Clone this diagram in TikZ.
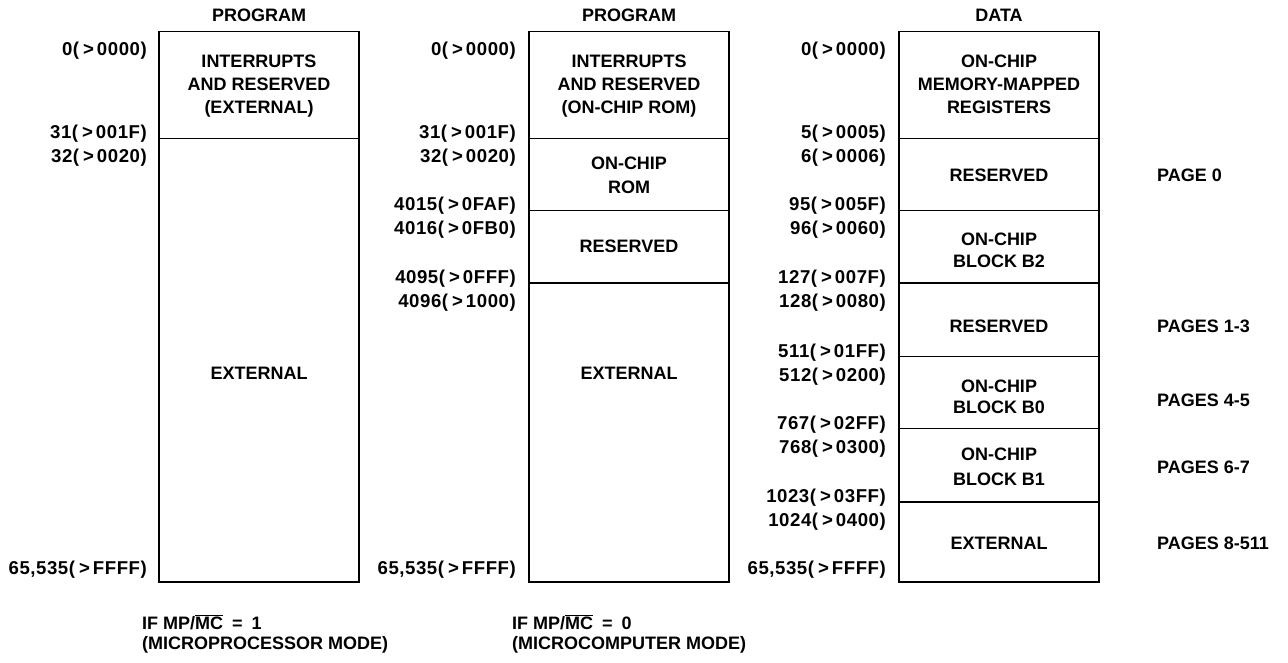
\documentclass[tikz,border=0pt]{standalone}
\usepackage{fontspec}
\setmainfont{Liberation Sans}
\newfontfamily\lblfont{Liberation Sans}[LetterSpace=3]
\newcommand\adrs[2]{#1(\kern4pt>\kern3pt#2)}
\begin{document}
\begin{tikzpicture}[x=1pt,y=-1pt,
  txt/.style={font=\bfseries\fontsize{18}{20}\selectfont, inner sep=0pt, anchor=base},
  lbl/.style={font=\lblfont\bfseries\fontsize{18.6}{20}\selectfont, inner sep=0pt, anchor=base east},
  pg/.style={txt, anchor=base west},
  box/.style={line width=1.8pt, line join=miter}]
\useasboundingbox (0,0) rectangle (1288,663);

% ---------- column 1 : PROGRAM (microprocessor mode) ----------
\draw[box] (159,31.5) rectangle (359,582);
\draw[box] (159,138.5) -- (359,138.5);
\node[txt] (h1) at (259,21.6) {PROGRAM};
\node[txt] (a1) at (259,67.5) {INTERRUPTS};
\node[txt] (a2) at (259,90.5) {AND RESERVED};
\node[txt] (a3) at (259,113.5) {(EXTERNAL)};
\node[txt] (a4) at (259,379.6) {EXTERNAL};
\node[lbl] (l11) at (147,55.5) {\adrs{0}{0000}};
\node[lbl] (l12) at (147,139) {\adrs{31}{001F}};
\node[lbl] (l13) at (147,163) {\adrs{32}{0020}};
\node[lbl] (l14) at (147,574) {\adrs{65,535}{FFFF}};

% ---------- column 2 : PROGRAM (microcomputer mode) ----------
\draw[box] (529,31.5) rectangle (729,582);
\draw[box] (529,138.5) -- (729,138.5);
\draw[box] (529,210.5) -- (729,210.5);
\draw[box] (529,283) -- (729,283);
\node[txt] (h2) at (629,21.6) {PROGRAM};
\node[txt] (b1) at (629,67.5) {INTERRUPTS};
\node[txt] (b2) at (629,90.5) {AND RESERVED};
\node[txt] (b3) at (629,113.5) {(ON-CHIP ROM)};
\node[txt] (b4) at (629,169.6) {ON-CHIP};
\node[txt] (b5) at (629,193.6) {ROM};
\node[txt] (b6) at (629,253) {RESERVED};
\node[txt] (b7) at (629,379.6) {EXTERNAL};
\node[lbl] (l21) at (516,55.5) {\adrs{0}{0000}};
\node[lbl] (l22) at (516,139) {\adrs{31}{001F}};
\node[lbl] (l23) at (516,163) {\adrs{32}{0020}};
\node[lbl] (l24) at (516,211) {\adrs{4015}{0FAF}};
\node[lbl] (l25) at (516,235) {\adrs{4016}{0FB0}};
\node[lbl] (l26) at (516,283.5) {\adrs{4095}{0FFF}};
\node[lbl] (l27) at (516,307.5) {\adrs{4096}{1000}};
\node[lbl] (l28) at (516,574) {\adrs{65,535}{FFFF}};

% ---------- column 3 : DATA ----------
\draw[box] (899,31.5) rectangle (1099,582);
\foreach \yy in {138.5,210.5,283,356.5,428.5,502}
  \draw[box] (899,\yy) -- (1099,\yy);
\node[txt] (h3) at (999,21.6) {DATA};
\node[txt] (c1) at (999,67.5) {ON-CHIP};
\node[txt] (c2) at (999,90.5) {MEMORY-MAPPED};
\node[txt] (c3) at (999,113.5) {REGISTERS};
\node[txt] (c4) at (999,181.6) {RESERVED};
\node[txt] (c5) at (999,245.6) {ON-CHIP};
\node[txt] (c6) at (999,267.6) {BLOCK B2};
\node[txt] (c7) at (999,332.6) {RESERVED};
\node[txt] (c8) at (999,392.6) {ON-CHIP};
\node[txt] (c9) at (999,413.6) {BLOCK B0};
\node[txt] (c10) at (999,460.6) {ON-CHIP};
\node[txt] (c11) at (999,485.6) {BLOCK B1};
\node[txt] (c12) at (999,549.6) {EXTERNAL};
\node[lbl] (l31) at (886,55.5) {\adrs{0}{0000}};
\node[lbl] (l32) at (886,139) {\adrs{5}{0005}};
\node[lbl] (l33) at (886,163) {\adrs{6}{0006}};
\node[lbl] (l34) at (886,211) {\adrs{95}{005F}};
\node[lbl] (l35) at (886,235) {\adrs{96}{0060}};
\node[lbl] (l36) at (886,283.5) {\adrs{127}{007F}};
\node[lbl] (l37) at (886,307.5) {\adrs{128}{0080}};
\node[lbl] (l38) at (886,357) {\adrs{511}{01FF}};
\node[lbl] (l39) at (886,381) {\adrs{512}{0200}};
\node[lbl] (l310) at (886,429) {\adrs{767}{02FF}};
\node[lbl] (l311) at (886,453) {\adrs{768}{0300}};
\node[lbl] (l312) at (886,502.5) {\adrs{1023}{03FF}};
\node[lbl] (l313) at (886,526.5) {\adrs{1024}{0400}};
\node[lbl] (l314) at (886,574) {\adrs{65,535}{FFFF}};

% ---------- page labels ----------
\node[pg] (p1) at (1157,181.6) {PAGE 0};
\node[pg] (p2) at (1157,332.6) {PAGES 1-3};
\node[pg] (p3) at (1157,406.6) {PAGES 4-5};
\node[pg] (p4) at (1157,473.6) {PAGES 6-7};
\node[pg] (p5) at (1157,549.6) {PAGES 8-511};

% ---------- mode notes ----------
\node[pg] (m1) at (142,629.6) {IF MP/$\overline{\mbox{MC}}$\enspace=\enspace1};
\node[pg] (m2) at (142,649.6) {(MICROPROCESSOR MODE)};
\node[pg] (m3) at (512,629.6) {IF MP/$\overline{\mbox{MC}}$\enspace=\enspace0};
\node[pg] (m4) at (512,649.6) {(MICROCOMPUTER MODE)};
\end{tikzpicture}
\end{document}
